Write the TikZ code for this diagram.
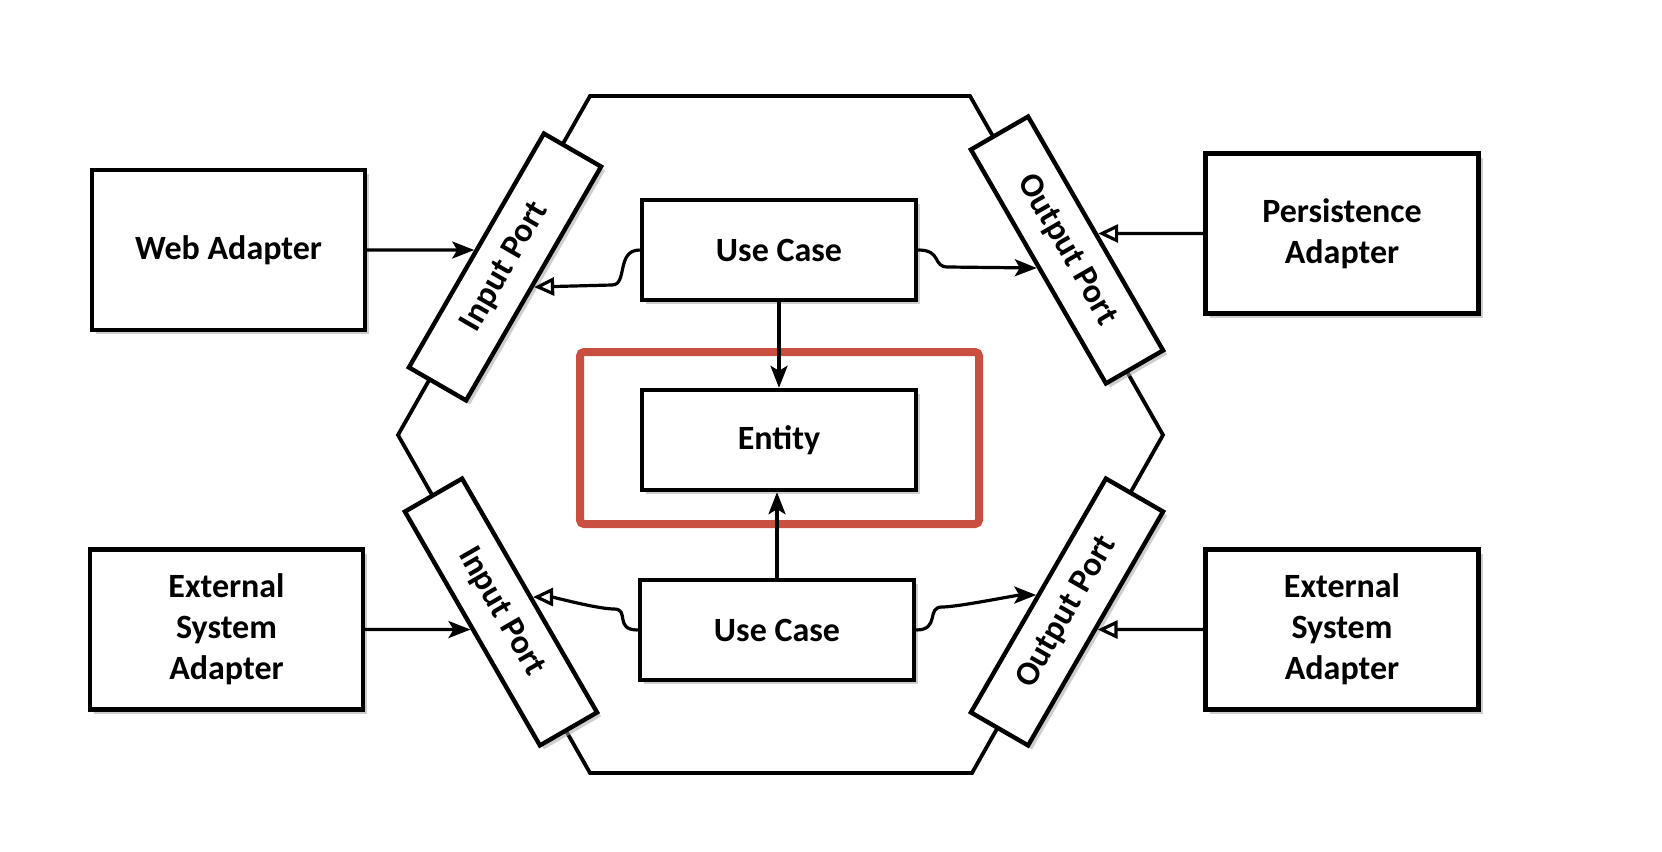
\documentclass[tikz,border=0pt]{standalone}
\usepackage{fontspec}
\setmainfont{Carlito}
\usetikzlibrary{arrows.meta,shadows}
\definecolor{framered}{RGB}{201,80,64}
\begin{document}
\begin{tikzpicture}[x=0.5pt,y=-0.5pt,
  box/.style={draw, line width=2.2pt, fill=white, align=center, inner sep=0pt,
    font=\fontsize{17}{20.5}\selectfont\bfseries,
    drop shadow={shadow xshift=2pt, shadow yshift=-2pt, fill=black!35, opacity=0.55}},
  adapter/.style={box, minimum width=136.5pt, minimum height=80pt},
  core/.style={box, minimum width=137pt, minimum height=50pt},
  port/.style={box, minimum width=135pt, minimum height=33pt},
  conn/.style={line width=1.6pt},
  arrfill/.style={conn, -{Stealth[length=11pt,width=8.5pt,inset=2.5pt]}},
  arropen/.style={conn, -{Triangle[open,length=10pt,width=9pt,fill=white,line width=1.6pt]}},
  hexline/.style={line width=1.9pt, line join=miter},
  frame/.style={draw=framered, line width=4pt, rounded corners=2pt}
]
\useasboundingbox (0,0) rectangle (1662,852);

% hexagon
\draw[hexline] (398,435) -- (590,96) -- (970,96) -- (1163,435) -- (972,773) -- (590,773) -- cycle;

% adapters
\node[adapter] (web)  at (228.5,250) {Web Adapter};
\node[adapter] (pers) at (1342,233.5) {Persistence\\Adapter};
\node[adapter] (ext1) at (226.5,629.5) {External\\System\\Adapter};
\node[adapter] (ext2) at (1342,629.5) {External\\System\\Adapter};

% ports
\node[port, rotate=60]  (p1) at (505,267) {Input Port};
\node[port, rotate=-60] (p2) at (1067,250) {Output Port};
\node[port, rotate=-60] (p3) at (501,612) {Input Port};
\node[port, rotate=60]  (p4) at (1067,612) {Output Port};

% core
\node[frame, minimum width=199.5pt, minimum height=86pt] (redframe) at (779.5,438) {};
\node[core] (uc1) at (779,250) {Use Case};
\node[core] (ent) at (779,440) {Entity};
\node[core] (uc2) at (777,630) {Use Case};

% arrow end points on the ports
\coordinate (tweb)  at (intersection of web.west--web.east and p1.north west--p1.north east);
\coordinate (tucaL) at (intersection of 0,287--100,287 and p1.south west--p1.south east);
\coordinate (tucaR) at (intersection of 0,268--100,268 and p2.south west--p2.south east);
\coordinate (tpers) at (intersection of pers.west--pers.east and p2.north west--p2.north east);
\coordinate (text1) at (intersection of ext1.west--ext1.east and p3.south west--p3.south east);
\coordinate (tucbL) at (intersection of 0,597--100,597 and p3.north west--p3.north east);
\coordinate (tucbR) at (intersection of 0,595--100,595 and p4.north west--p4.north east);
\coordinate (text2) at (intersection of ext2.west--ext2.east and p4.south west--p4.south east);

% connectors
\draw[arrfill] (web.east) -- (tweb);
\draw[arropen] (pers.west) -- (tpers);
\draw[arrfill] (ext1.east) -- (text1);
\draw[arropen] (ext2.west) -- (text2);

\draw[arropen] (uc1.west) .. controls +(-24,0) and +(16,0) .. (612,285) -- (tucaL);
\draw[arrfill] (uc1.east) .. controls +(24,0) and +(-16,0) .. (948,267) -- (tucaR);
\draw[arropen] (uc2.west) .. controls +(-24,0) and +(16,0) .. (614,609) .. controls +(-16,0) and +(20,0) .. (tucbL);
\draw[arrfill] (uc2.east) .. controls +(24,0) and +(-16,0) .. (942,607) .. controls +(16,0) and +(-20,0) .. (tucbR);

\draw[arrfill] (uc1.south) -- (ent.north);
\draw[arrfill] (uc2.north) -- (uc2.north |- ent.south);
\end{tikzpicture}
\end{document}
